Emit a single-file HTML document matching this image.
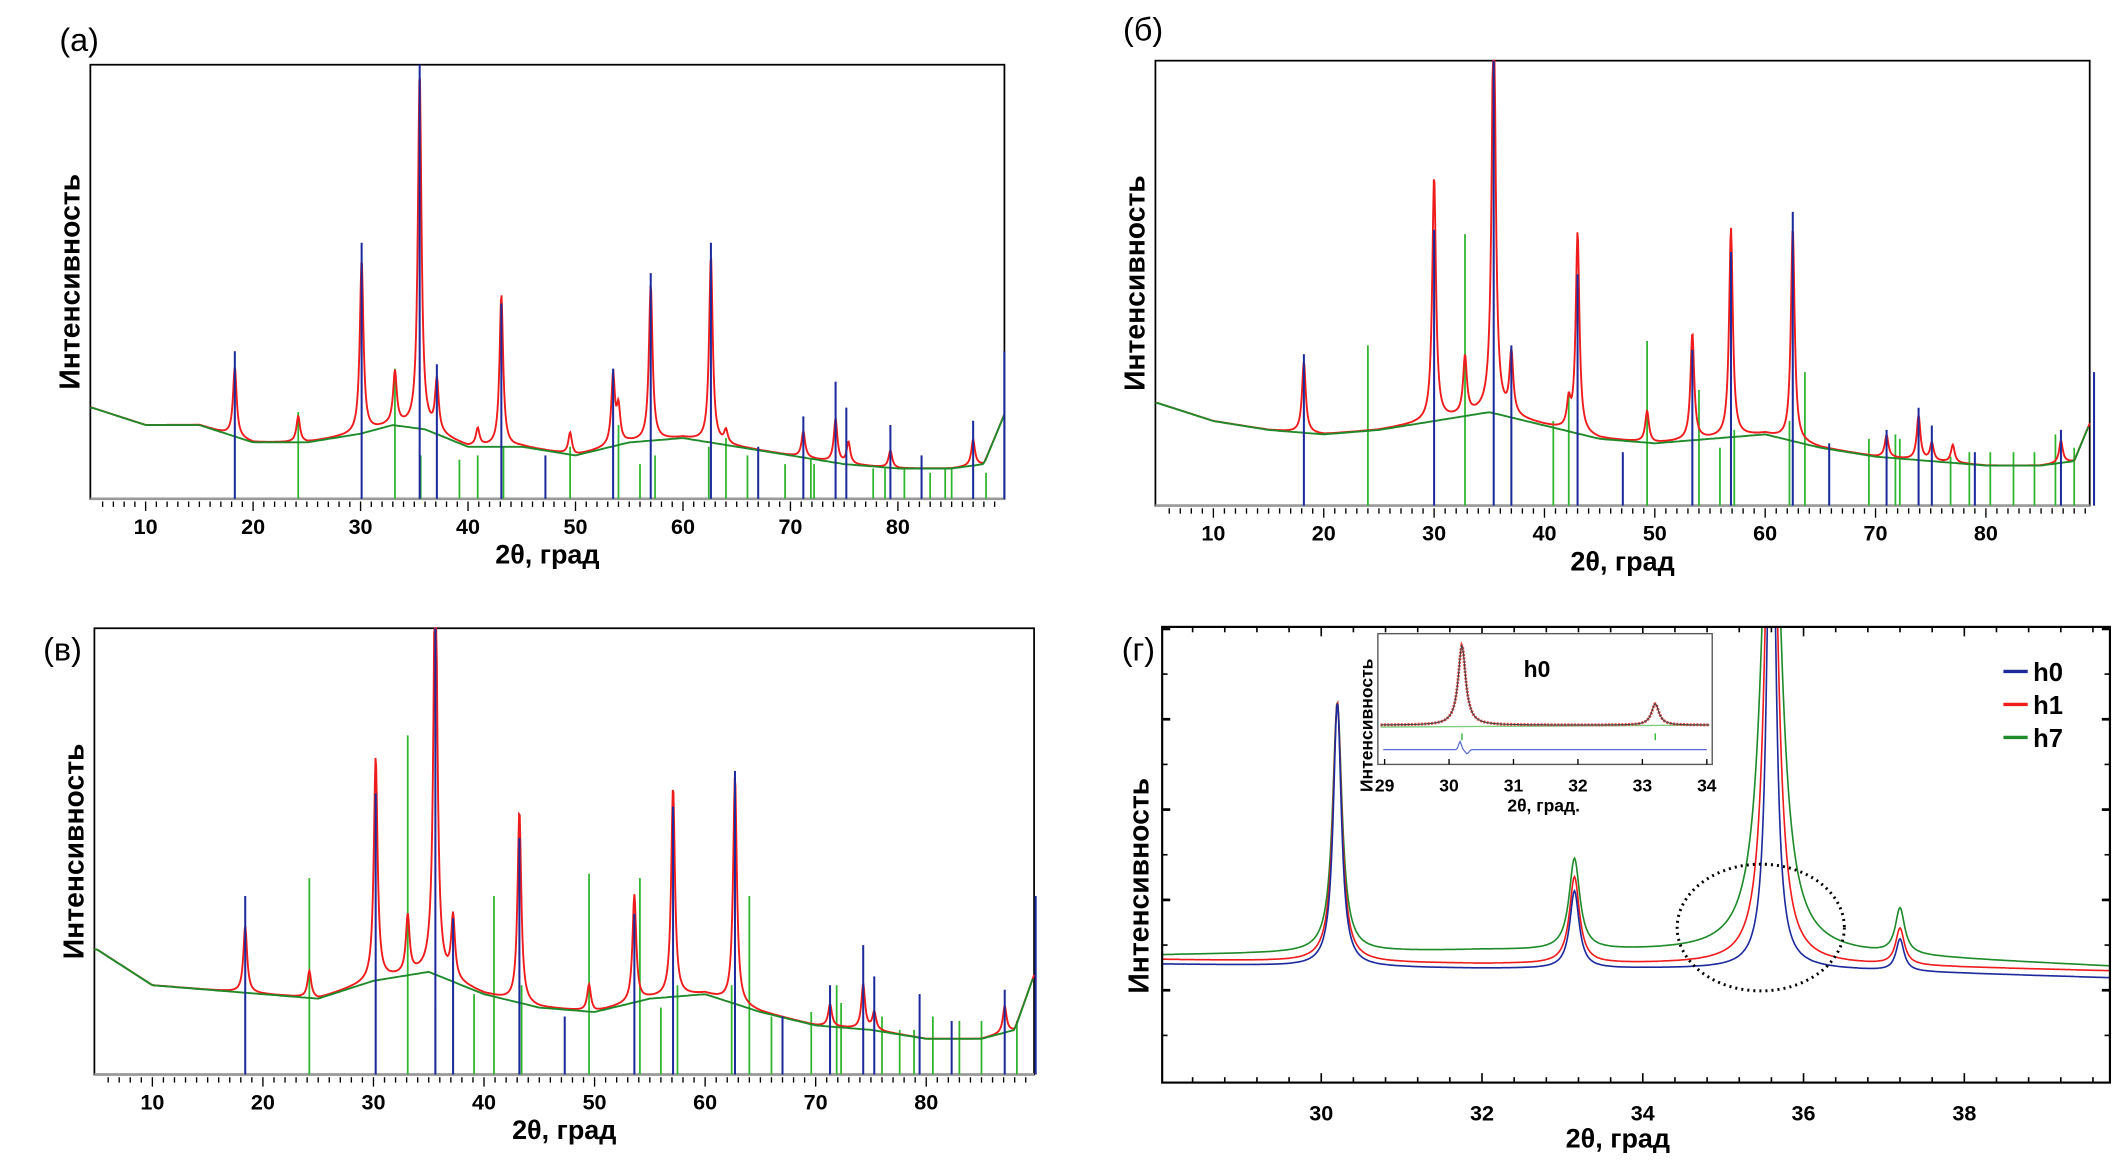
<!DOCTYPE html>
<html><head><meta charset="utf-8"><style>
html,body{margin:0;padding:0;background:#fff;}
svg{display:block;}
text{font-family:"Liberation Sans",Arial,sans-serif;}
</style></head><body>
<svg id="fig" width="2114" height="1174" viewBox="0 0 1568 870.8" xmlns="http://www.w3.org/2000/svg"></svg>
<script>
// ---------- Panel (a) data ----------
const aBlueX=[18.3,30.1,35.5,37.1,43.1,47.2,53.5,57.0,62.6,67.0,71.2,74.2,75.2,79.3,82.2,87.0,89.9];
const aBlueH=[0.34,0.59,1.0,0.31,0.45,0.10,0.30,0.52,0.59,0.12,0.19,0.27,0.21,0.17,0.10,0.18,0.34];
const aGreenX=[24.2,33.2,35.6,39.2,40.9,43.3,49.5,54.0,56.0,57.4,62.4,64.0,66.0,69.5,71.9,72.2,77.7,78.8,80.6,83.0,84.4,85.0,88.2];
const aGreenH=[0.20,0.30,0.10,0.09,0.10,0.12,0.12,0.17,0.08,0.10,0.12,0.14,0.10,0.08,0.09,0.08,0.07,0.07,0.07,0.06,0.07,0.07,0.06];
const aRedX=[18.3,24.2,30.1,33.2,35.5,37.1,40.9,43.1,49.5,53.5,54.0,57.0,62.6,64.0,71.2,74.2,75.4,79.3,87.0];
const aRedH=[0.16,0.06,0.40,0.12,0.82,0.12,0.04,0.35,0.05,0.16,0.08,0.36,0.43,0.03,0.06,0.10,0.05,0.04,0.06];
const aBgX=[5,10,15,20,25,30,33,36,40,45,50,55,60,65,70,75,80,85,88,90];
const aBgY=[0.21,0.17,0.17,0.13,0.13,0.15,0.17,0.16,0.12,0.12,0.10,0.13,0.14,0.12,0.10,0.08,0.07,0.07,0.08,0.20];
// ---------- Panel (б) data ----------
const bBlueX=[18.2,30.0,35.4,37.0,43.0,47.1,53.4,56.9,62.5,65.8,71.0,73.9,75.1,79.0,86.8,89.8];
const bBlueH=[0.34,0.62,1.0,0.36,0.52,0.12,0.35,0.57,0.66,0.14,0.17,0.22,0.18,0.12,0.17,0.30];
const bGreenX=[24.0,32.8,40.8,42.2,49.3,54.0,55.9,57.2,62.2,63.6,69.4,71.8,72.2,76.8,78.5,80.4,82.5,84.4,86.3,88.0];
const bGreenH=[0.36,0.61,0.19,0.25,0.37,0.26,0.13,0.17,0.19,0.30,0.15,0.16,0.15,0.11,0.12,0.12,0.12,0.12,0.16,0.13];
const bRedX=[18.2,30.0,32.8,35.4,37.0,42.2,43.0,49.3,53.4,56.9,62.5,71.0,73.9,75.1,77.0,86.8];
const bRedH=[0.16,0.55,0.13,0.98,0.14,0.06,0.45,0.07,0.24,0.47,0.48,0.05,0.10,0.04,0.04,0.05];
const bBgX=[5,10,15,20,25,30,35,40,45,50,55,60,65,70,75,80,85,88,90];
const bBgY=[0.23,0.19,0.17,0.16,0.17,0.19,0.21,0.18,0.15,0.14,0.15,0.16,0.13,0.11,0.10,0.09,0.09,0.10,0.22];
// ---------- Panel (в) data ----------
const cBlueX=[18.4,30.2,35.6,37.2,43.2,47.3,53.6,57.1,62.7,67.0,71.3,74.3,75.3,79.4,82.3,87.1,89.9];
const cBlueH=[0.40,0.63,1.0,0.35,0.53,0.13,0.36,0.60,0.68,0.13,0.20,0.29,0.22,0.18,0.12,0.19,0.40];
const cGreenX=[24.2,33.1,35.6,39.1,40.9,43.4,49.5,54.1,56.0,57.5,62.4,64.0,66.0,69.6,71.9,72.3,76.0,77.6,78.9,80.6,83.0,85.0,88.2];
const cGreenH=[0.44,0.76,0.15,0.18,0.40,0.20,0.45,0.44,0.15,0.20,0.20,0.40,0.13,0.14,0.20,0.16,0.13,0.10,0.10,0.13,0.12,0.12,0.12];
const cRedX=[18.4,24.2,30.2,33.1,35.6,37.2,43.2,49.5,53.6,57.1,62.7,71.3,74.3,75.3,87.1];
const cRedH=[0.15,0.06,0.50,0.13,1.0,0.14,0.43,0.06,0.24,0.47,0.51,0.05,0.10,0.04,0.06];
const cBgX=[5,10,15,20,25,30,35,40,45,50,55,60,65,70,75,80,85,88,90];
const cBgY=[0.28,0.20,0.19,0.18,0.17,0.21,0.23,0.18,0.15,0.14,0.17,0.18,0.14,0.11,0.10,0.08,0.08,0.10,0.24];
// ---------- Panel (г) data ----------
const gSeries=["h0","h1","h7"];
const gPeakX=[30.2,33.15,35.6,37.2];
const gH0Amp=[0.58,0.17,1.3,0.07];
const gH1Amp=[0.57,0.19,1.3,0.08];
const gH7Amp=[0.55,0.20,1.3,0.10];
const gH0W=[0.06,0.07,0.06,0.06];
const gH1W=[0.065,0.075,0.09,0.065];
const gH7W=[0.07,0.08,0.13,0.07];
const gBase0=[0.26,0.25,0.25,0.23];
const gBase1=[0.27,0.26,0.26,0.245];
const gBase7=[0.28,0.29,0.285,0.255];
const gBaseX=[28,32,36,39.8];
// inset data
const insPeakX=[30.2,33.2];
const insPeakH=[0.82,0.22];
const insTickX=[30.2,33.2];

const NS="http://www.w3.org/2000/svg";
const svg=document.getElementById('fig');
function mk(tag,attrs,parent){const e=document.createElementNS(NS,tag);for(const k in attrs)e.setAttribute(k,attrs[k]);(parent||svg).appendChild(e);return e;}
function txt(s,attrs,parent){const e=mk('text',attrs,parent);e.textContent=s;return e;}
function interp(xs,ys,x){if(x<=xs[0])return ys[0];for(let i=1;i<xs.length;i++){if(x<=xs[i]){const t=(x-xs[i-1])/(xs[i]-xs[i-1]);return ys[i-1]+t*(ys[i]-ys[i-1]);}}return ys[ys.length-1];}

function widePanel(cfg){
  const g=mk('g',{});
  
  
  const L=cfg.L,R=cfg.R,T=cfg.T,B=cfg.B;
  const xs=v=>cfg.x10+(v-10)*(cfg.x80-cfg.x10)/70;
  const ys=f=>B-f*(B-T);
  const lbl=txt(cfg.label,{x:cfg.lx,y:cfg.ly,'font-size':24,'font-family':'Liberation Serif, serif'},g);
  
  
  const frame=mk('rect',{x:L,y:T,width:R-L,height:B-T,fill:'none',stroke:'#000','stroke-width':1.3},g);
  
  
  mk('line',{x1:L,y1:B,x2:R,y2:B,stroke:'#999','stroke-width':2},g);
  let d='';
  let rd='';
  for(let px=L;px<=R;px+=0.5){
    const x=10+(px-cfg.x10)*70/(cfg.x80-cfg.x10);
    let y=interp(cfg.bgX,cfg.bgY,x);
    for(let i=0;i<cfg.redX.length;i++){const w=0.2;y+=cfg.redH[i]/(1+Math.pow((x-cfg.redX[i])/w,2));}
    rd+=(rd?'L':'M')+px.toFixed(1)+','+ys(Math.min(y,1)).toFixed(1);
  }
  cfg.greenX.forEach((x,i)=>{const s=mk('line',{x1:xs(x),x2:xs(x),y1:B,y2:ys(cfg.greenH[i]),stroke:'#2db52d','stroke-width':1.3},g);
    
    });
  const red=mk('path',{d:rd,fill:'none',stroke:'#ee1c1c','stroke-width':1.4},g);
  
  
  for(let px=L;px<=R;px+=2){const x=10+(px-cfg.x10)*70/(cfg.x80-cfg.x10);d+=(d?'L':'M')+px+','+ys(interp(cfg.bgX,cfg.bgY,x)).toFixed(1);}
  const bg=mk('path',{d:d,fill:'none',stroke:'#1e8a2a','stroke-width':1.4},g);
  
  
  cfg.blueX.forEach((x,i)=>{const s=mk('line',{x1:xs(x),x2:xs(x),y1:B,y2:ys(cfg.blueH[i]),stroke:'#1c2a9c','stroke-width':1.5},g);
    
    });
  for(let v=6;v<=89;v++){const x=xs(v);const major=v%10===0;mk('line',{x1:x,x2:x,y1:B+2,y2:B+(major?9:6),stroke:'#000','stroke-width':1},g);
    if(major){const t=txt(String(v),{x:x,y:B+26,'font-size':16,'font-weight':'bold','text-anchor':'middle'},g);
      
      }}
  const xt=txt('2θ, град',{x:(L+R)/2,y:B+48,'font-size':20,'font-weight':'bold','text-anchor':'middle'},g);
  
  
  const yt=txt('Интенсивность',{x:0,y:0,'font-size':21,'font-weight':'bold','text-anchor':'middle',transform:`translate(${L-8},${(T+B)/2}) rotate(-90)`},g);
  
  
}
widePanel({name:'panel-a',label:'(a)',lx:44,ly:38,L:67,R:745,T:48,B:370,x10:108,x80:666,blueX:aBlueX,blueH:aBlueH,greenX:aGreenX,greenH:aGreenH,redX:aRedX,redH:aRedH,bgX:aBgX,bgY:aBgY});
widePanel({name:'panel-b',label:'(б)',lx:833,ly:30,L:857,R:1550,T:45,B:375,x10:900,x80:1473,blueX:bBlueX,blueH:bBlueH,greenX:bGreenX,greenH:bGreenH,redX:bRedX,redH:bRedH,bgX:bBgX,bgY:bBgY});
widePanel({name:'panel-c',label:'(в)',lx:32,ly:490,L:70,R:767,T:466,B:797,x10:113,x80:687,blueX:cBlueX,blueH:cBlueH,greenX:cGreenX,greenH:cGreenH,redX:cRedX,redH:cRedH,bgX:cBgX,bgY:cBgY});

// ---------- Panel (г) ----------
(function(){
  const g=mk('g',{});
  
  
  const L=862,R=1565,T=465,B=803;
  const xs=v=>980+(v-30)*(1457-980)/8;
  const ys=f=>B-f*(B-T);
  const lbl=txt('(г)',{x:832,y:490,'font-size':24,'font-family':'Liberation Serif, serif'},g);
  
  
  const cols={h0:'#1c2a9c',h1:'#ee1c1c',h7:'#1e8a2a'};
  const amps={h0:gH0Amp,h1:gH1Amp,h7:gH7Amp};
  const wids={h0:gH0W,h1:gH1W,h7:gH7W};
  const bases={h0:gBase0,h1:gBase1,h7:gBase7};
  const clip=mk('clipPath',{id:'cd'},svg);mk('rect',{x:L,y:T,width:R-L,height:B-T},clip);
  ['h7','h1','h0'].forEach(s=>{
    let d='';
    for(let px=L;px<=R;px+=0.7){const x=30+(px-980)*8/(1457-980);
      let y=interp(gBaseX,bases[s],x);
      for(let i=0;i<gPeakX.length;i++)y+=amps[s][i]/(1+Math.pow((x-gPeakX[i])/wids[s][i],2));
      d+=(d?'L':'M')+px.toFixed(1)+','+ys(y).toFixed(1);}
    const p=mk('path',{d:d,fill:'none',stroke:cols[s],'stroke-width':1.2,'clip-path':'url(#cd)'},g);
    
    
  });
  const fr=mk('rect',{x:L,y:T,width:R-L,height:B-T,fill:'none',stroke:'#000','stroke-width':1.6},g);
  
  
  for(let k=1;k<30;k++){const v=28+k*0.4;const x=xs(v);const major=(k%5===0);
    mk('line',{x1:x,x2:x,y1:B,y2:B-(major?7:4),stroke:'#000','stroke-width':1.2},g);
    mk('line',{x1:x,x2:x,y1:T,y2:T+(major?7:4),stroke:'#000','stroke-width':1.2},g);
    if(major){const t=txt(String(Math.round(v)),{x:x,y:B+28,'font-size':16,'font-weight':'bold','text-anchor':'middle'},g);
      
      }}
  for(let y=B-35;y>T;y-=33.5){const major=Math.round((B-y)/33.5)%2===0;
    mk('line',{x1:L,x2:L+(major?6:4),y1:y,y2:y,stroke:'#000','stroke-width':major?2:1.2},g);
    mk('line',{x1:R,x2:R-(major?6:4),y1:y,y2:y,stroke:'#000','stroke-width':major?2:1.2},g);}
  const xt=txt('2θ, град',{x:1200,y:851,'font-size':20,'font-weight':'bold','text-anchor':'middle'},g);
  
  
  const yt=txt('Интенсивность',{x:0,y:0,'font-size':21,'font-weight':'bold','text-anchor':'middle',transform:'translate(852,657) rotate(-90)'},g);
  
  
  const el=mk('ellipse',{cx:1306,cy:688,rx:62,ry:47,fill:'none',stroke:'#000','stroke-width':2.2,'stroke-dasharray':'1.5 3'},g);
  
  
  gSeries.forEach((s,i)=>{const y=498+i*24.5;
    const lg=mk('g',{},g);
    
    
    mk('line',{x1:1486,x2:1504,y1:y,y2:y,stroke:cols[s],'stroke-width':2.5},lg);
    txt(s,{x:1508,y:y+7,'font-size':19,'font-weight':'bold'},lg);});
  // inset
  const ig=mk('g',{},g);
  
  
  const iL=1022,iR=1270,iT=470,iB=567;
  mk('rect',{x:iL,y:iT,width:iR-iL,height:iB-iT,fill:'#fff',stroke:'#555','stroke-width':1},ig);
  const ix=v=>1027+(v-29)*(1266-1027)/5;
  const iy=f=>540-f*72;
  let d='';
  for(let px=iL+2;px<=iR-2;px+=0.7){const x=29+(px-1027)*5/(1266-1027);let y=0.03;
    for(let i=0;i<insPeakX.length;i++)y+=insPeakH[i]/(1+Math.pow((x-insPeakX[i])/0.07,2));
    d+=(d?'L':'M')+px.toFixed(1)+','+iy(y).toFixed(1);}
  mk('line',{x1:iL+2,x2:iR-2,y1:iy(0.01),y2:iy(0.03),stroke:'#7ccf7c','stroke-width':1},ig);
  const ip=mk('path',{d:d,fill:'none',stroke:'#ee4a4a','stroke-width':2.2,'stroke-dasharray':'1.5 1'},ig);
  
  
  mk('path',{d:d,fill:'none',stroke:'#444','stroke-width':0.8},ig);
  insTickX.forEach(x=>mk('line',{x1:ix(x),x2:ix(x),y1:544,y2:549,stroke:'#2db52d','stroke-width':1},ig));
  let dd='';
  for(let px=iL+4;px<=iR-4;px+=1){const x=29+(px-1027)*5/(1266-1027);const y=556-6*Math.exp(-Math.pow((x-30.17)/0.03,2))+3*Math.exp(-Math.pow((x-30.28)/0.04,2));dd+=(dd?'L':'M')+px+','+y.toFixed(1);}
  const idf=mk('path',{d:dd,fill:'none',stroke:'#5a6ad0','stroke-width':0.9},ig);
  
  
  for(let v=29;v<=34;v++){const x=ix(v);mk('line',{x1:x,x2:x,y1:iB,y2:iB-4,stroke:'#000'},ig);
    const t=txt(String(v),{x:x,y:iB+20,'font-size':13,'font-weight':'bold','text-anchor':'middle'},ig);
    
    }
  txt('2θ, град.',{x:1145,y:iB+35,'font-size':13,'font-weight':'bold','text-anchor':'middle'},ig);
  txt('Интенсивность',{x:0,y:0,'font-size':13,'font-weight':'bold','text-anchor':'middle',transform:'translate(1018,538) rotate(-90)'},ig);
  txt('h0',{x:1140,y:502,'font-size':17,'font-weight':'bold','text-anchor':'middle'},ig);
})();
</script>
</body></html>
